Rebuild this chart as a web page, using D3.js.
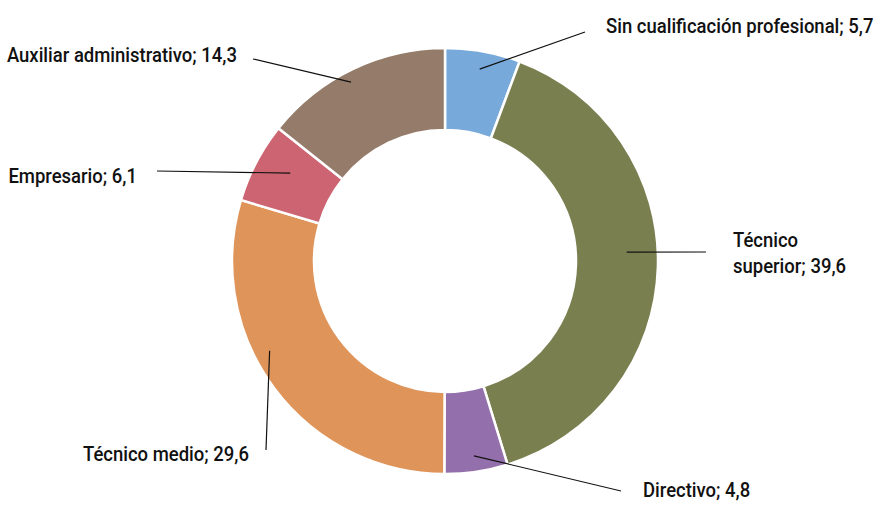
<!DOCTYPE html>
<html>
<head>
<meta charset="utf-8">
<script src="https://cdn.jsdelivr.net/npm/d3@7.9.0/dist/d3.min.js"></script>
<style>
  html, body { margin: 0; padding: 0; background: #fff; }
  svg { display: block; }
  text { font-family: Roboto, "Liberation Sans", sans-serif; font-weight: 500; font-size: 20px; fill: #111; }
</style>
</head>
<body>
<svg id="chart" width="881" height="509"></svg>
<script>
const categories = [
  'Sin cualificación profesional',
  'Técnico superior',
  'Directivo',
  'Técnico medio',
  'Empresario',
  'Auxiliar administrativo'
];
const values = [5.7, 39.6, 4.8, 29.6, 6.1, 14.3];
const colorList = ['#78a9db', '#7a7f50', '#9370ab', '#df945a', '#cd6471', '#957b69'];

// label placement: anchor point, lines, leader end, small angle nudge for the leader start
const labelLayout = [
  { x: 606, y: 33, anchor: 'start', lines: ['Sin cualificación profesional; 5,7'], end: [585, 32], nudge: 0, r: 195 },
  { x: 733, y: 247, anchor: 'start', lines: ['Técnico', 'superior; 39,6'], end: [706, 252], nudge: -4.5, r: 182 },
  { x: 643, y: 497, anchor: 'start', lines: ['Directivo; 4,8'], end: [621, 491], nudge: 0, r: 197 },
  { x: 249, y: 461, anchor: 'end', lines: ['Técnico medio; 29,6'], end: [266, 450], nudge: 9.5, r: 197 },
  { x: 137, y: 183, anchor: 'end', lines: ['Empresario; 6,1'], end: [157, 171], nudge: 2, r: 178 },
  { x: 237, y: 62, anchor: 'end', lines: ['Auxiliar administrativo; 14,3'], end: [253, 59], nudge: -2, r: 202 }
];

const condense = 0.925;

const svg = d3.select('#chart');
const cx = 445, cy = 261;
const outerR = 213, innerR = 131;

const data = categories.map((name, i) => ({ name, value: values[i] }));
const color = d3.scaleOrdinal().domain(categories).range(colorList);

const pie = d3.pie().sort(null).value((d) => d.value);
const arcs = pie(data);
const arc = d3.arc().innerRadius(innerR).outerRadius(outerR);

const g = svg.append('g').attr('transform', `translate(${cx},${cy})`);

g.selectAll('path')
  .data(arcs)
  .join('path')
  .attr('d', arc)
  .attr('fill', (d) => color(d.data.name))
  .attr('stroke', '#fff')
  .attr('stroke-width', 2.5);

function leaderStart(d, i) {
  const lay = labelLayout[i];
  const a = (d.startAngle + d.endAngle) / 2 + (lay.nudge * Math.PI) / 180;
  return [cx + lay.r * Math.sin(a), cy - lay.r * Math.cos(a)];
}

svg.selectAll('line.leader')
  .data(arcs)
  .join('line')
  .attr('class', 'leader')
  .attr('x1', (d, i) => leaderStart(d, i)[0])
  .attr('y1', (d, i) => leaderStart(d, i)[1])
  .attr('x2', (d, i) => labelLayout[i].end[0])
  .attr('y2', (d, i) => labelLayout[i].end[1])
  .attr('stroke', '#111')
  .attr('stroke-width', 1.2);

const labels = svg.selectAll('text.label')
  .data(arcs)
  .join('text')
  .attr('class', 'label')
  .attr('transform', (d, i) => `translate(${labelLayout[i].x},${labelLayout[i].y}) scale(${condense},1)`)
  .attr('text-anchor', (d, i) => labelLayout[i].anchor);

labels.each(function (d, i) {
  const t = d3.select(this);
  labelLayout[i].lines.forEach((line, j) => {
    t.append('tspan')
      .attr('x', 0)
      .attr('dy', j === 0 ? 0 : 26)
      .text(line);
  });
});
</script>
</body>
</html>
